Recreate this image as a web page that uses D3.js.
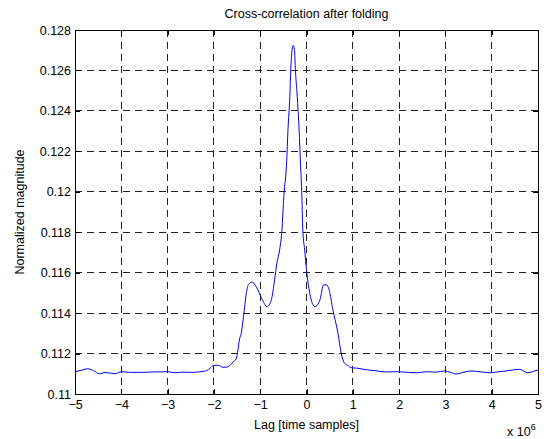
<!DOCTYPE html>
<html lang="en">
<head>
  <meta charset="UTF-8">
  <title>Cross-correlation after folding</title>
  <script src="https://d3js.org/d3.v7.min.js"></script>
  <style>
    body { margin: 0; background: #fff; }
    text { font-family: "Liberation Sans", Arial, sans-serif; fill: #000; }
  </style>
</head>
<body>
  <script>
    // lag in units of 10^6 samples
    const lags = [-5.00, -4.85, -4.72, -4.60, -4.47, -4.35, -4.14, -4.00, -3.80, -3.57,
      -3.30, -3.00, -2.82, -2.67, -2.45, -2.30, -2.16, -2.08, -2.00, -1.90,
      -1.80, -1.72, -1.66, -1.58, -1.52, -1.48, -1.45, -1.41, -1.36, -1.30,
      -1.25, -1.17, -1.08, -0.97, -0.85, -0.76, -0.69, -0.64, -0.58, -0.53,
      -0.49, -0.43, -0.40, -0.36, -0.34, -0.31, -0.29, -0.26, -0.24, -0.20,
      -0.16, -0.13, -0.10, -0.08, -0.04, 0.00, 0.07, 0.18, 0.29, 0.37,
      0.43, 0.49, 0.57, 0.68, 0.75, 0.82, 0.90, 0.96, 1.08, 1.32,
      1.50, 1.68, 1.97, 2.20, 2.40, 2.58, 2.80, 2.98, 3.10, 3.23,
      3.40, 3.55, 3.75, 3.95, 4.15, 4.35, 4.60, 4.78, 4.90, 5.00];

    const magnitude = [0.11110, 0.11118, 0.11125, 0.11115, 0.11100, 0.11107, 0.11100, 0.11110, 0.11107, 0.11107,
      0.11109, 0.11110, 0.11105, 0.11108, 0.11107, 0.11110, 0.11115, 0.11128, 0.11142, 0.11142,
      0.11132, 0.11133, 0.11140, 0.11160, 0.11173, 0.11218, 0.11267, 0.11300, 0.11383, 0.11498,
      0.11543, 0.11553, 0.11528, 0.11474, 0.11432, 0.11465, 0.11564, 0.11647, 0.11713, 0.11812,
      0.11977, 0.12142, 0.12307, 0.12472, 0.12604, 0.12703, 0.12724, 0.12703, 0.12604, 0.12472,
      0.12307, 0.12142, 0.11977, 0.11812, 0.11713, 0.11614, 0.11498, 0.11432, 0.11465, 0.11540,
      0.11540, 0.11515, 0.11416, 0.11300, 0.11201, 0.11152, 0.11140, 0.11130, 0.11128, 0.11119,
      0.11115, 0.11109, 0.11110, 0.11107, 0.11105, 0.11110, 0.11108, 0.11114, 0.11108, 0.11099,
      0.11108, 0.11114, 0.11110, 0.11105, 0.11110, 0.11115, 0.11122, 0.11105, 0.11112, 0.11119];

    const xTicks = [-5, -4, -3, -2, -1, 0, 1, 2, 3, 4, 5];
    const yTicks = [0.11, 0.112, 0.114, 0.116, 0.118, 0.12, 0.122, 0.124, 0.126, 0.128];

    const W = 553, H = 439;
    const margin = { top: 30, right: 15, bottom: 45, left: 75 },
      width = W - margin.left - margin.right,
      height = H - margin.top - margin.bottom;

    const fs = "12.5px";

    const svg = d3.select("body").append("svg")
      .attr("width", W)
      .attr("height", H);

    const g = svg.append("g")
      .attr("transform", "translate(" + margin.left + "," + margin.top + ")");

    const x = d3.scaleLinear().domain([-5, 5]).range([0, width]);
    const y = d3.scaleLinear().domain([0.11, 0.128]).range([height, 0]);

    // grid
    g.append("g").selectAll("line")
      .data(xTicks.slice(1, -1))
      .join("line")
      .attr("x1", d => x(d)).attr("x2", d => x(d))
      .attr("y1", 0).attr("y2", height)
      .attr("stroke", "#222").attr("stroke-dasharray", "7,5")
      .attr("shape-rendering", "crispEdges");

    g.append("g").selectAll("line")
      .data(yTicks.slice(1, -1))
      .join("line")
      .attr("y1", d => y(d)).attr("y2", d => y(d))
      .attr("x1", 0).attr("x2", width)
      .attr("stroke", "#222").attr("stroke-dasharray", "7,5")
      .attr("shape-rendering", "crispEdges");

    // axes with inward ticks
    g.append("g")
      .attr("transform", "translate(0," + height + ")")
      .call(d3.axisBottom(x).tickValues(xTicks).tickSize(-5).tickPadding(6).tickFormat(d3.format("d")));
    g.append("g")
      .call(d3.axisLeft(y).tickValues(yTicks).tickSize(-5).tickPadding(4).tickFormat(d => String(+d.toFixed(3))));
    g.append("g")
      .call(d3.axisTop(x).tickValues(xTicks).tickSize(-5).tickFormat(""));
    g.append("g")
      .attr("transform", "translate(" + width + ",0)")
      .call(d3.axisRight(y).tickValues(yTicks).tickSize(-5).tickFormat(""));

    g.selectAll(".domain").attr("stroke", "#000").attr("shape-rendering", "crispEdges");
    g.selectAll(".tick line").attr("stroke", "#000").attr("shape-rendering", "crispEdges");
    g.selectAll(".tick text").style("font-size", fs).attr("fill", "#000");

    // curve
    const pts = lags.map((l, i) => [l, magnitude[i]]);
    g.append("path")
      .datum(pts)
      .attr("fill", "none")
      .attr("stroke", "#0000ff")
      .attr("stroke-width", 1)
      .attr("d", d3.line().x(d => x(d[0])).y(d => y(d[1])).curve(d3.curveMonotoneX));

    // titles
    svg.append("text")
      .attr("x", margin.left + width / 2).attr("y", 18)
      .attr("text-anchor", "middle").style("font-size", fs)
      .text("Cross-correlation after folding");

    svg.append("text")
      .attr("x", margin.left + width / 2).attr("y", 429)
      .attr("text-anchor", "middle").style("font-size", fs)
      .text("Lag [time samples]");

    svg.append("text")
      .attr("transform", "translate(24," + (margin.top + height / 2) + ") rotate(-90)")
      .attr("text-anchor", "middle").style("font-size", fs)
      .text("Normalized magnitude");

    const ex = svg.append("text")
      .attr("x", 507).attr("y", 436)
      .style("font-size", fs);
    ex.append("tspan").text("x 10");
    ex.append("tspan").attr("dy", -6).style("font-size", "9px").text("6");
  </script>
</body>
</html>
